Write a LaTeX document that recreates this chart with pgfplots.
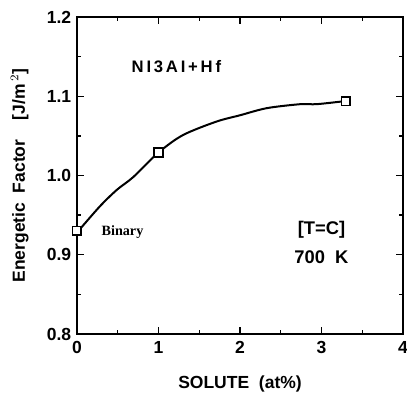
\documentclass[border=0pt]{standalone}
\usepackage{pgfplots}
\pgfplotsset{compat=1.18}
\usepackage{fontspec}
\setmainfont{Liberation Sans}
\newfontfamily\seriffont{Liberation Serif}
\begin{document}
\begin{tikzpicture}
\begin{axis}[
  scale only axis,
  width=195.6pt, height=190.2pt,
  xmin=0, xmax=4, ymin=0.8, ymax=1.2,
  xtick={0,1,2,3,4}, ytick={0.8,0.9,1.0,1.1,1.2},
  minor xtick={0.5,1.5,2.5,3.5}, minor ytick={0.85,0.95,1.05,1.15},
  yticklabel style={/pgf/number format/.cd,fixed,fixed zerofill,precision=1},
  /pgf/number format/assume math mode=true,
  tick label style={font=\fontsize{10.5}{12}\selectfont\bfseries},
  xticklabel style={yshift=-1pt},
  tick align=inside, major tick length=4pt, minor tick length=2.5pt,
  every tick/.style={black, line width=0.8pt},
  axis line style={line width=1.2pt},
  xlabel={SOLUTE~~(at\%)},
  ylabel={Energetic~~Factor~~~~[J/m$^{\,2}$]},
  label style={font=\fontsize{10.5}{12}\selectfont\bfseries},
  xlabel style={yshift=-6pt},
  ylabel style={yshift=4pt},
  clip=false,
]
% curve
\addplot[black, line width=1.2pt, smooth, tension=0.5] coordinates {
  (0,0.928) (0.28,0.961) (0.49,0.982) (0.69,0.998) (1.0,1.029)
  (1.30,1.051) (1.71,1.068) (2.0,1.076) (2.33,1.085) (2.74,1.090)
  (2.94,1.090) (3.3,1.094)
};
% measured points
\addplot[black, only marks, mark=square*, mark size=2.6pt,
  mark options={fill=white, line width=1pt}] coordinates {
  (0,0.930) (1,1.029) (3.3,1.094)
};
\node[font=\fontsize{10}{11}\selectfont\bfseries] at (axis cs:1.22,1.137) {N\,I\,3\,A\,I\,+\,H\,f};
\node[font=\fontsize{8.5}{10}\selectfont\seriffont\bfseries, anchor=west] at (axis cs:0.23,0.928) {Binary};
\node[font=\fontsize{11}{12}\selectfont\bfseries] at (axis cs:3.0,0.932) {[T=C]};
\node[font=\fontsize{11}{12}\selectfont\bfseries] at (axis cs:3.0,0.897) {700~~K};
\path (axis cs:0,0.8) ++(-46.2pt,-35.4pt) coordinate (bl);
\path (axis cs:4,1.2) ++(2.4pt,10.2pt) coordinate (tr);
\end{axis}
\pgfresetboundingbox
\useasboundingbox (bl) rectangle (tr);
\end{tikzpicture}
\end{document}
